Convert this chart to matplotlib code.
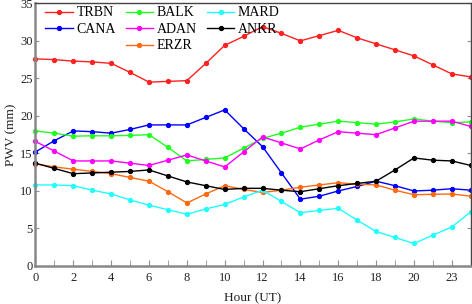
import matplotlib
matplotlib.use("Agg")
import matplotlib.pyplot as plt
from matplotlib.lines import Line2D
import numpy as np

# PWV diurnal values per station, hour 0..23
hours = list(range(24))
trbn = [27.6, 27.5, 27.3, 27.2, 27.0, 25.8, 24.5, 24.6, 24.7, 27.0, 29.4, 30.6,
        31.9, 31.0, 30.0, 30.7, 31.4, 30.4, 29.6, 28.8, 28.0, 26.8, 25.6, 25.2]
cana = [15.2, 16.7, 18.0, 17.9, 17.7, 18.2, 18.8, 18.8, 18.8, 19.8, 20.8, 18.3,
        15.9, 12.4, 8.9, 9.3, 10.0, 10.6, 11.3, 10.7, 10.0, 10.1, 10.3, 10.1]
balk = [18.0, 17.7, 17.3, 17.35, 17.35, 17.4, 17.5, 15.8, 14.0, 14.2, 14.4, 15.7,
        17.0, 17.7, 18.5, 18.9, 19.3, 19.1, 18.9, 19.2, 19.6, 19.3, 19.1, 19.2]
adan = [16.6, 15.3, 14.0, 14.0, 14.0, 13.7, 13.4, 14.1, 14.8, 14.0, 13.2, 15.2,
        17.2, 16.4, 15.6, 16.8, 17.9, 17.7, 17.5, 18.4, 19.3, 19.3, 19.3, 18.6]
erzr = [13.6, 13.2, 12.9, 12.6, 12.3, 11.8, 11.3, 9.9, 8.4, 9.6, 10.7, 10.2,
        9.8, 10.1, 10.5, 10.8, 11.1, 10.9, 10.8, 10.1, 9.5, 9.55, 9.6, 9.3]
mard = [10.8, 10.8, 10.7, 10.1, 9.6, 8.8, 8.1, 7.5, 6.9, 7.6, 8.2, 9.2,
        10.1, 8.6, 7.1, 7.4, 7.7, 6.1, 4.6, 3.8, 3.0, 4.1, 5.2, 7.2]
ankr = [13.7, 13.0, 12.3, 12.4, 12.5, 12.6, 12.8, 12.0, 11.2, 10.7, 10.2, 10.35,
        10.35, 10.1, 9.9, 10.3, 10.7, 11.0, 11.3, 12.8, 14.4, 14.1, 14.0, 13.4]

xtick_pos = [0, 2, 4, 6, 8, 10, 12, 14, 16, 18, 20, 22]
xtick_labels = ["0", "2", "4", "6", "8", "10", "12", "14", "16", "18", "20", "23"]

plt.rcParams['font.family'] = ['Liberation Serif', 'DejaVu Serif']

fig = plt.figure(figsize=(4.72, 3.04), dpi=100)
ax = fig.add_axes([0.0752, 0.125, 0.922, 0.864])

series = [
    ("TRBN", trbn, "#ff2020"),
    ("CANA", cana, "#0000ff"),
    ("BALK", balk, "#20ff20"),
    ("ADAN", adan, "#ff00ff"),
    ("ERZR", erzr, "#ff6a10"),
    ("MARD", mard, "#20ffff"),
    ("ANKR", ankr, "#000000"),
]
lines = {}
for name, vals, col in series:
    l, = ax.plot(hours, vals, color=col, lw=1.0, marker='o', ms=2.8,
                 mec=col, mfc=col, label=name, clip_on=False)
    lines[name] = l

ax.set_xlim(0, 23)
ax.set_ylim(0, 35)
ax.set_xticks(xtick_pos)
ax.set_xticklabels(xtick_labels)
ax.set_xticks(hours, minor=True)
ax.set_yticks(range(0, 36, 5))
ax.tick_params(axis='both', which='both', direction='in', colors='#909090',
               labelcolor='#222222', labelsize=9)
ax.tick_params(axis='x', which='major', length=4, pad=4)
ax.tick_params(axis='x', which='minor', length=4)
ax.tick_params(axis='y', which='major', length=3, right=True, pad=2)

for s in ['left', 'bottom']:
    ax.spines[s].set_color('#888888')
    ax.spines[s].set_linewidth(1.8)
for s in ['top', 'right']:
    ax.spines[s].set_color('#444444')
    ax.spines[s].set_linewidth(1.0)

ax.set_xlabel("Hour (UT)", fontsize=9.5, color='#222222', labelpad=6)
ax.set_ylabel("PWV (mm)", fontsize=9.5, color='#222222', labelpad=2)

blank = Line2D([], [], linestyle='none', marker=None)
handles = [lines["TRBN"], lines["CANA"], blank,
           lines["BALK"], lines["ADAN"], lines["ERZR"],
           lines["MARD"], lines["ANKR"]]
labels = ["TRBN", "CANA", "", "BALK", "ADAN", "ERZR", "MARD", "ANKR"]
ax.legend(handles, labels, ncol=3, loc='upper left', bbox_to_anchor=(0.0, 1.025),
          frameon=False, fontsize=10, handlelength=2.0, handletextpad=0.25,
          columnspacing=0.7, labelspacing=0.25, borderaxespad=0.3)

fig.savefig("out.png", dpi=100)
